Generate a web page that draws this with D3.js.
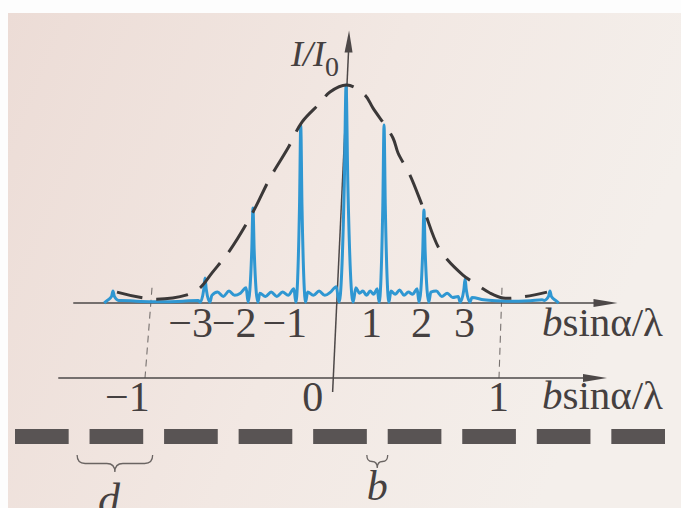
<!DOCTYPE html>
<html>
<head>
<meta charset="utf-8">
<script src="https://cdn.jsdelivr.net/npm/d3@7"></script>
<style>
  body { margin: 0; background: #fff; }
  svg { display: block; }
</style>
</head>
<body>
<div id="chart"></div>
<script>
////////////////////////////  Data  ////////////////////////////
// principal maxima: order k, position (b sinα/λ) and height (I/I0)
const orders = [-5, -3, -2, -1, 0, 1, 2, 3, 5];
const peakPos = [-1.223, -0.697, -0.423, -0.15, 0.109, 0.326, 0.554, 0.789, 1.274];
const peakHeight = [0.055, 0.115, 0.436, 0.817, 1.0, 0.817, 0.427, 0.11, 0.055];

// secondary maxima ripple between neighbouring principal maxima (I/I0)
const gapRipple = [
  [0.012, 0.008, 0.006, 0.006, 0.008, 0.012],
  [0.035, 0.05, 0.03, 0.055, 0.035, 0.045, 0.07],
  [0.045, 0.03, 0.05, 0.03, 0.05, 0.035, 0.065],
  [0.05, 0.035, 0.055, 0.035, 0.05, 0.075],
  [0.07, 0.045, 0.055, 0.035, 0.055, 0.04, 0.065],
  [0.055, 0.04, 0.06, 0.035, 0.05, 0.04, 0.065],
  [0.05, 0.055, 0.03, 0.045, 0.025, 0.03],
  [0.025, 0.015, 0.01, 0.008, 0.008, 0.01, 0.015]
];

// single-slit envelope (dashed)
const envelopeX = [-1.2, -0.994, -0.8, -0.726, -0.657, -0.554, -0.423, -0.326, -0.223, -0.143,
  -0.04, 0.017, 0.114, 0.217, 0.263, 0.377, 0.406, 0.474, 0.554, 0.646, 0.777, 0.834, 0.931, 1.006, 1.12, 1.257];
const envelopeI = [0.05, 0.018, 0.037, 0.069, 0.138, 0.243, 0.417, 0.573, 0.711, 0.83,
  0.917, 0.968, 1.0, 0.954, 0.894, 0.757, 0.688, 0.587, 0.427, 0.243, 0.128, 0.096, 0.046, 0.023, 0.028, 0.05];

// tick labels
const topTickLabels = ["−3", "−2", "−1", "1", "2", "3"];
const topTickPos = [-0.709, -0.46, -0.171, 0.257, 0.543, 0.789];
const bottomTickLabels = ["−1", "0", "1"];
const bottomTickPos = [-1.03, -0.05, 1.0];

// grating bars
const slits = [0, 1, 2, 3, 4, 5, 6, 7, 8];

////////////////////////////  Init  ////////////////////////////
const width = 681;
const height = 508;
const ink = "#4d4848";
const blue = "#2f97d2";
const serif = "'Liberation Serif', 'Times New Roman', Times, 'DejaVu Serif', serif";

const svg = d3.select("#chart").append("svg")
  .attr("width", width)
  .attr("height", height)
  .attr("font-family", serif);

// paper
const grad = svg.append("defs").append("linearGradient")
  .attr("id", "paper").attr("x1", 0).attr("x2", 1).attr("y1", 0).attr("y2", 0.3);
grad.append("stop").attr("offset", "0%").attr("stop-color", "#ecdcd6");
grad.append("stop").attr("offset", "55%").attr("stop-color", "#f2e8e3");
grad.append("stop").attr("offset", "100%").attr("stop-color", "#f4efeb");
svg.append("rect").attr("width", width).attr("height", height).attr("fill", "#fdfdfd");
svg.append("rect").attr("x", 8).attr("y", 13)
  .attr("width", width - 8).attr("height", height - 13)
  .attr("fill", "url(#paper)");

// scales
const xTop = d3.scaleLinear().domain([-1, 1]).range([152, 502]);
const y = d3.scaleLinear().domain([0, 1]).range([303, 85]);
const xBot = d3.scaleLinear().domain([-1, 1]).range([145, 499]);
const yBot = 378;

const arrow = (x, yy, dir) => {
  // dir: "right" or "up"
  if (dir === "right") return `M${x},${yy} L${x - 24},${yy - 4} L${x - 24},${yy + 4} Z`;
  return `M${x},${yy} L${x - 4.5},${yy + 22} L${x + 3.5},${yy + 22} Z`;
};

////////////////////////////  Axes  ////////////////////////////
// dashed guides at b sinα/λ = ±1
[-1, 1].forEach((v) => {
  svg.append("line")
    .attr("x1", xTop(v)).attr("y1", y(0.07))
    .attr("x2", xBot(v)).attr("y2", yBot)
    .attr("stroke", "#77716f").attr("stroke-width", 1.1)
    .attr("stroke-dasharray", "7 5");
});

// upper axis
svg.append("line")
  .attr("x1", xTop(-1.45)).attr("y1", y(0))
  .attr("x2", xTop(1.6)).attr("y2", y(0))
  .attr("stroke", ink).attr("stroke-width", 1.6);
svg.append("path").attr("d", arrow(xTop(1.66), y(0), "right")).attr("fill", ink);

// lower axis
svg.append("line")
  .attr("x1", xBot(-1.49)).attr("y1", yBot)
  .attr("x2", xBot(1.56)).attr("y2", yBot)
  .attr("stroke", ink).attr("stroke-width", 1.6);
svg.append("path").attr("d", arrow(xBot(1.61), yBot, "right")).attr("fill", ink);

// vertical axis (slightly tilted as in the photo)
const yTopX = xTop(0.126);
const yTopY = y(1.25);
svg.append("line")
  .attr("x1", yTopX).attr("y1", yTopY + 10)
  .attr("x2", xBot(0.06)).attr("y2", yBot + 14)
  .attr("stroke", ink).attr("stroke-width", 1.5);
svg.append("path").attr("d", arrow(yTopX, yTopY, "up")).attr("fill", ink);

////////////////////////////  Curves  ////////////////////////////
const halfWidth = (k) => (Math.abs(k) === 5 ? 0.032 : k === 0 ? 0.04 : 0.028);
const trace = [[peakPos[0] - 0.05, 0.0]];
peakPos.forEach((p, i) => {
  const hw = halfWidth(orders[i]);
  const foot = Math.abs(orders[i]) === 5 ? 0.012 : 0.004;
  trace.push([p - hw, foot], [p - hw * 0.25, peakHeight[i] * 0.55], [p, peakHeight[i]],
    [p + hw * 0.25, peakHeight[i] * 0.55], [p + hw, foot]);
  if (i < gapRipple.length) {
    const r = gapRipple[i];
    const a = p + hw * 1.4;
    const b = peakPos[i + 1] - halfWidth(orders[i + 1]) * 1.4;
    r.forEach((v, j) => trace.push([a + ((b - a) * j) / (r.length - 1), v]));
  }
});
trace.push([peakPos[peakPos.length - 1] + 0.05, 0.0]);

const line = d3.line()
  .x((d) => xTop(d[0]))
  .y((d) => y(d[1]))
  .curve(d3.curveMonotoneX);

svg.append("path")
  .datum(trace)
  .attr("d", line)
  .attr("fill", "none")
  .attr("stroke", blue)
  .attr("stroke-width", 3)
  .attr("stroke-linejoin", "round");

const envelope = envelopeX.map((v, i) => [v, envelopeI[i]]);
svg.append("path")
  .datum(envelope)
  .attr("d", line.curve(d3.curveCatmullRom))
  .attr("fill", "none")
  .attr("stroke", "#3b3838")
  .attr("stroke-width", 3)
  .attr("stroke-dasharray", "32 14")
  .attr("stroke-dashoffset", 6);

////////////////////////////  Labels  ////////////////////////////
const textInk = "#454040";
svg.selectAll(".top-tick")
  .data(topTickLabels)
  .enter()
  .append("text")
  .attr("x", (d, i) => xTop(topTickPos[i]) + 10)
  .attr("y", 337)
  .attr("text-anchor", "end")
  .attr("font-size", 42)
  .attr("fill", textInk)
  .text((d) => d);

svg.selectAll(".bottom-tick")
  .data(bottomTickLabels)
  .enter()
  .append("text")
  .attr("x", (d, i) => xBot(bottomTickPos[i]) + 10)
  .attr("y", 411)
  .attr("text-anchor", "end")
  .attr("font-size", 42)
  .attr("fill", textInk)
  .text((d) => d);

const axisName = (yy) => {
  const t = svg.append("text")
    .attr("x", 542).attr("y", yy)
    .attr("font-size", 40)
    .attr("fill", textInk)
    .attr("textLength", 121)
    .attr("lengthAdjust", "spacingAndGlyphs");
  t.append("tspan").attr("font-style", "italic").text("b");
  t.append("tspan").text("sinα/λ");
};
axisName(336);
axisName(409);

const yl = svg.append("text")
  .attr("x", 291).attr("y", 66)
  .attr("font-size", 36)
  .attr("fill", textInk);
yl.append("tspan").attr("font-style", "italic").text("I/I");
yl.append("tspan").attr("dy", 10).attr("font-size", 28).text("0");

////////////////////////////  Grating  ////////////////////////////
const slitX = d3.scaleBand().domain(slits).range([15, 665]).paddingInner(0.28).paddingOuter(0);
svg.selectAll(".bar")
  .data(slits)
  .enter()
  .append("rect")
  .attr("x", (d) => slitX(d))
  .attr("y", 429)
  .attr("width", slitX.bandwidth())
  .attr("height", 15)
  .attr("fill", "#595454");

const gapMid = (i) => slitX(i) + slitX.bandwidth() + (slitX.step() - slitX.bandwidth()) / 2;
const brace = (x1, x2, y0, depth) => {
  const m = (x1 + x2) / 2;
  const h = depth / 2;
  const r = Math.min(8, (x2 - x1) / 4);
  return `M${x1},${y0} Q${x1},${y0 + h} ${x1 + r},${y0 + h} L${m - r},${y0 + h} Q${m},${y0 + h} ${m},${y0 + depth}
          M${x2},${y0} Q${x2},${y0 + h} ${x2 - r},${y0 + h} L${m + r},${y0 + h} Q${m},${y0 + h} ${m},${y0 + depth}`;
};
svg.append("path")
  .attr("d", brace(gapMid(0) - 2, gapMid(1) - 1, 455, 17))
  .attr("fill", "none").attr("stroke", "#6a6462").attr("stroke-width", 1.3);
svg.append("path")
  .attr("d", brace(slitX(4) + slitX.bandwidth(), slitX(5), 455, 13))
  .attr("fill", "none").attr("stroke", "#6a6462").attr("stroke-width", 1.3);

svg.append("text")
  .attr("x", gapMid(0) + 30).attr("y", 514)
  .attr("text-anchor", "middle")
  .attr("font-size", 44).attr("font-style", "italic")
  .attr("fill", textInk)
  .text("d");
svg.append("text")
  .attr("x", gapMid(4)).attr("y", 500)
  .attr("text-anchor", "middle")
  .attr("font-size", 42).attr("font-style", "italic")
  .attr("fill", textInk)
  .text("b");
</script>
</body>
</html>
